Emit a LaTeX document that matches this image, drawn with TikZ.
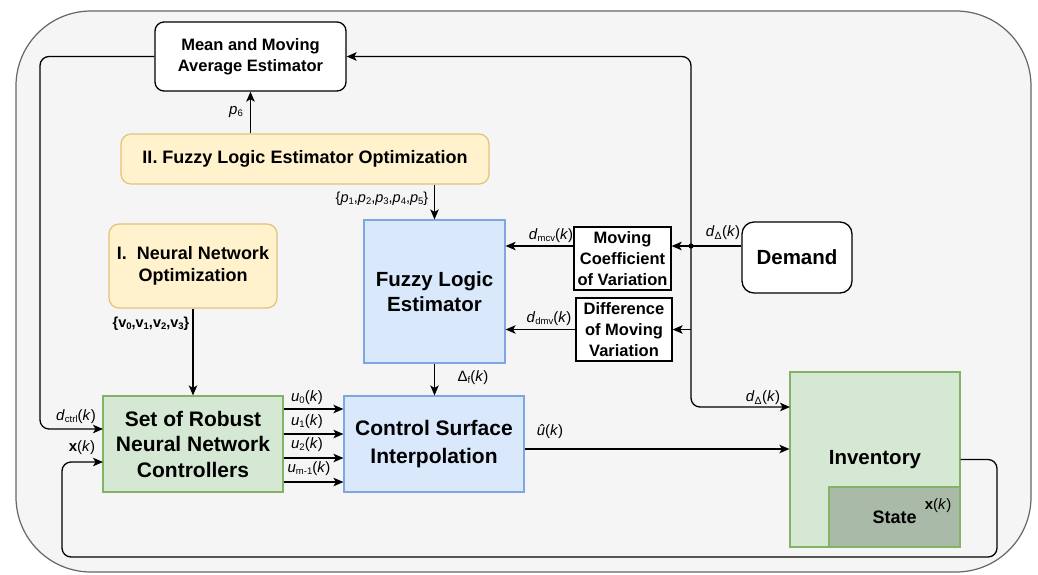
\documentclass[tikz,border=0pt]{standalone}
\usepackage{fontspec}
\setmainfont{Liberation Sans}
\usetikzlibrary{arrows.meta}

\definecolor{outerfill}{HTML}{F5F5F5}
\definecolor{outerline}{HTML}{666666}
\definecolor{yfill}{HTML}{FFF2CC}
\definecolor{yline}{HTML}{E3C27A}
\definecolor{bfill}{HTML}{DAE8FC}
\definecolor{bline}{HTML}{7EA6E0}
\definecolor{gfill}{HTML}{D5E8D4}
\definecolor{gline}{HTML}{82B366}
\definecolor{sfill}{HTML}{AABAA8}

\newcommand\fsz[2]{\fontsize{#1}{#2}\selectfont}
% small, slightly lowered subscript
\newcommand\sbx[1]{\raisebox{-0.12em}{\fsz{9.5}{10}#1}}

\tikzset{
  base/.style={align=center, inner sep=0pt, font=\bfseries},
  whitebox/.style={base, draw=black, fill=white, line width=1.3pt},
  ybox/.style={base, draw=yline, fill=yfill, line width=1.2pt, rounded corners=10pt},
  bbox/.style={base, draw=bline, fill=bfill, line width=1.2pt},
  gbox/.style={base, draw=gline, fill=gfill, line width=1.2pt},
  conn/.style={line width=1.3pt, rounded corners=9pt},
  arr/.style={conn, -{Stealth[length=10pt,width=8.5pt,inset=2.5pt]}},
  lbl/.style={inner sep=0pt, font=\fsz{15}{18}},
}

\begin{document}
\begin{tikzpicture}[x=1pt,y=-1pt]
\useasboundingbox (0,0) rectangle (1038,574);

% background panel
\draw[draw=outerline, fill=outerfill, line width=1.2pt, rounded corners=75pt]
  (16,11) rectangle (1031,572);

% blocks
\node[whitebox, rounded corners=9pt, minimum width=191, minimum height=69,
      font=\bfseries\fsz{16.5}{21}] (mean) at (250.5,56.5)
      {Mean and Moving\\Average Estimator};
\node[ybox, minimum width=368, minimum height=50, font=\bfseries\fsz{18}{22}]
      (fleopt) at (305,159) {II. Fuzzy Logic Estimator Optimization};
\node[ybox, minimum width=168, minimum height=84, font=\bfseries\fsz{18}{21.5}]
      (nnopt) at (193,266) {I.\ \ Neural Network\\Optimization};
\node[bbox, minimum width=141, minimum height=143, font=\bfseries\fsz{20.5}{25}]
      (fle) at (434.5,291.5) {Fuzzy Logic\\Estimator};
\node[gbox, minimum width=180, minimum height=96, font=\bfseries\fsz{21}{25.5}]
      (set) at (193,444) {Set of Robust\\Neural Network\\Controllers};
\node[bbox, minimum width=180, minimum height=96, font=\bfseries\fsz{21}{28}]
      (csi) at (434,444) {Control Surface\\Interpolation};
\node[whitebox, minimum width=97, minimum height=63, font=\bfseries\fsz{16.5}{21}]
      (mcv) at (622.5,258.5) {Moving\\Coefficient\\of Variation};
\node[whitebox, minimum width=96, minimum height=63, font=\bfseries\fsz{16.5}{21}]
      (dmv) at (624,329.5) {Difference\\of Moving\\Variation};
\node[whitebox, rounded corners=12pt, minimum width=110, minimum height=71,
      font=\bfseries\fsz{20.5}{24}] (dem) at (797,257.5) {Demand};
\node[gbox, minimum width=170, minimum height=175, font=\bfseries\fsz{20.5}{24}]
      (inv) at (875,459.5) {Inventory};
\node[base, draw=gline, fill=sfill, line width=1.2pt, minimum width=131,
      minimum height=60, font=\bfseries\fsz{18}{22}] (state) at (894.5,517) {State};
\node[lbl] (xst) at (938,506) {\textbf{x}(\textit{k})};

% junction and entry points
\coordinate (j) at (691,246);
\coordinate (lc) at (40,0);
\coordinate (sIn1) at (103,429);
\coordinate (sIn2) at (103,462);
\coordinate (dIn) at (790,407);
\coordinate (rb) at (997,557);
\coordinate (lb) at (62,557);
\fill (j) circle (2.6pt);

% demand distribution
\draw[conn] (j -| dem.west) -- (j);
\draw[arr] (j) -- (j -| mcv.east);
\draw[arr] (j) |- (mean.east);
\draw[arr] (j) |- (dIn);
\draw[arr] (j |- dmv.east) -- (dmv.east);
\draw[arr] (j -| mcv.west) -- (j -| fle.east);
\draw[arr] (dmv.west) -- (dmv.west -| fle.east);

% optimisation parameters
\draw[arr] (mean.south |- fleopt.north) -- (mean.south);
\draw[arr] (fle.north |- fleopt.south) -- (fle.north);
\draw[arr] (nnopt.south) -- (set.north -| nnopt.south);

% controller path
\draw[arr] (mean.west) -- (mean.west -| lc) -- (lc |- sIn1) -- (sIn1);
\draw[arr] (set.east |- 0,409) -- (csi.west |- 0,409);
\draw[arr] (set.east |- 0,434) -- (csi.west |- 0,434);
\draw[arr] (set.east |- 0,458) -- (csi.west |- 0,458);
\draw[arr] (set.east |- 0,482) -- (csi.west |- 0,482);
\draw[arr] (fle.south) -- (csi.north -| fle.south);
\draw[arr] (csi.east |- 0,449) -- (inv.west |- 0,449);

% state feedback
\draw[arr] (inv.east) -| (rb) -- (lb) |- (sIn2);

% signal labels
\node[lbl] (lp6) at (236,112) {\textit{p}\sbx{6}};
\node[lbl, font=\fsz{14.5}{17}] (lp15) at (382,199)
  {\{\textit{p}\sbx{1},\textit{p}\sbx{2},\textit{p}\sbx{3},\textit{p}\sbx{4},\textit{p}\sbx{5}\}};
\node[lbl, font=\bfseries\fsz{14.5}{17}] (lv) at (151,324)
  {\{v\sbx{\bfseries 0},v\sbx{\bfseries 1},v\sbx{\bfseries 2},v\sbx{\bfseries 3}\}};
\node[lbl] (ldc) at (76,417) {\textit{d}\sbx{ctrl}(\textit{k})};
\node[lbl] (lx) at (82,448) {\textbf{x}(\textit{k})};
\node[lbl] (lu0) at (307,398) {\textit{u}\sbx{0}(\textit{k})};
\node[lbl] (lu1) at (307,422) {\textit{u}\sbx{1}(\textit{k})};
\node[lbl] (lu2) at (307,445) {\textit{u}\sbx{2}(\textit{k})};
\node[lbl] (lum) at (309,469) {\textit{u}\sbx{m-1}(\textit{k})};
\node[lbl] (ldf) at (473,378) {Δ\sbx{f}(\textit{k})};
\node[lbl] (lmcv) at (551,236) {\textit{d}\sbx{mcv}(\textit{k})};
\node[lbl] (ldmv) at (549,319) {\textit{d}\sbx{dmv}(\textit{k})};
\node[lbl] (ldd1) at (723,233) {\textit{d}\textsubscript{Δ}(\textit{k})};
\node[lbl] (ldd2) at (763,398) {\textit{d}\textsubscript{Δ}(\textit{k})};
\node[lbl] (luh) at (550,432) {\textit{û}(\textit{k})};
\end{tikzpicture}
\end{document}
